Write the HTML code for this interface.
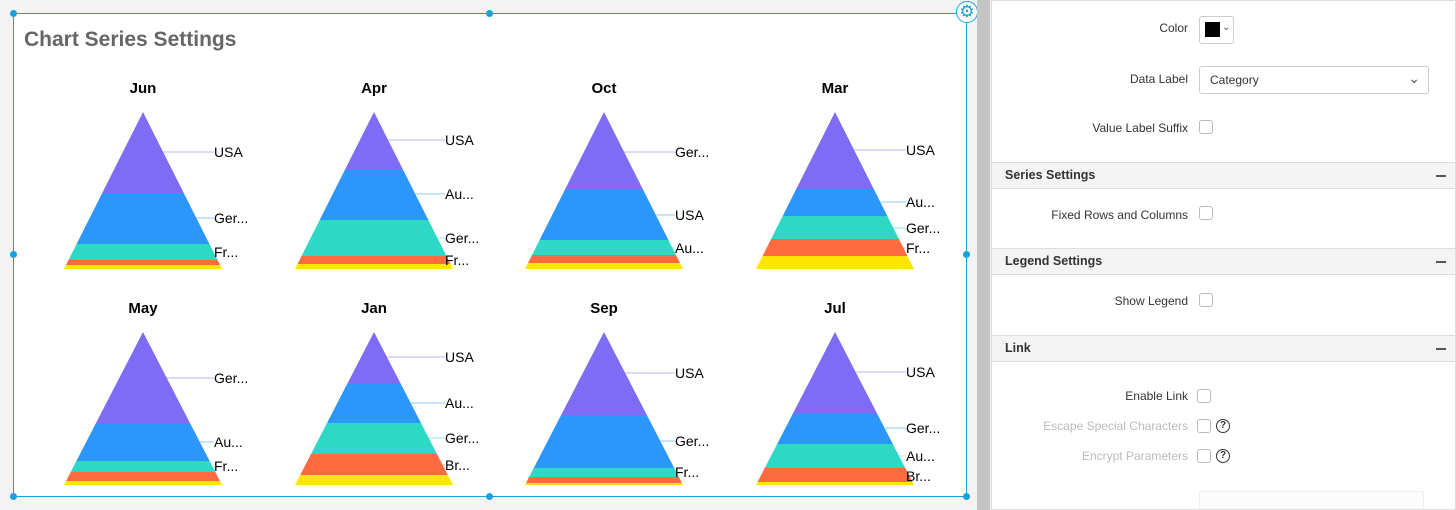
<!DOCTYPE html>
<html><head><style>
html,body{margin:0;width:1456px;height:510px;overflow:hidden}
body{background:#f3f3f3;font-family:"Liberation Sans",sans-serif;position:relative}
.card{position:absolute;left:13px;top:13px;width:952px;height:482px;background:#fff;border:1px solid #1aa0dd}
.h{position:absolute;width:7px;height:7px;border-radius:50%;background:#1aa0dd}
.sep{position:absolute;left:977px;top:0;width:13px;height:510px;background:#c4c4c4}
.panel{position:absolute;left:991px;top:0;width:463px;height:508px;background:#fff;border:1px solid #ddd;overflow:hidden}
.lbl{position:absolute;right:267px;font-size:12px;color:#333;text-align:right;white-space:nowrap}
.dis{color:#bbb}
.cb{position:absolute;width:12px;height:12px;border:1px solid #bbb;border-radius:3px;background:#fff}
.sec{position:absolute;left:0;width:463px;height:25px;background:#f4f4f4;border-top:1px solid #ddd;border-bottom:1px solid #ddd;font-size:12.5px;font-weight:bold;color:#333;line-height:25px;text-indent:13px}
.sec:after{content:"";position:absolute;right:9px;top:12px;width:10px;height:1.5px;background:#555}
.q{position:absolute;width:12px;height:12px;border:1.3px solid #333;border-radius:50%;font-size:10px;line-height:12px;text-align:center;color:#333;font-weight:bold}
</style></head><body>
<div class="card"></div>
<div class="h" style="left:10px;top:10px"></div><div class="h" style="left:486px;top:10px"></div>
<div class="h" style="left:10px;top:251px"></div><div class="h" style="left:963px;top:251px"></div>
<div class="h" style="left:10px;top:493px"></div><div class="h" style="left:486px;top:493px"></div><div class="h" style="left:963px;top:493px"></div>
<div style="position:absolute;left:956px;top:1px;width:20px;height:20px;border-radius:50%;background:#fff;border:1px solid #1aa0dd;color:#1aa0dd;font-size:17px;line-height:20px;text-align:center">⚙</div>
<svg id="s" width="977" height="510" style="position:absolute;left:0;top:0">
<text x="24" y="46" font-size="21" font-weight="bold" fill="#666" font-family="Liberation Sans">Chart Series Settings</text>
</svg>
<div class="sep"></div>
<div class="panel">
<div class="lbl" style="top:20px">Color</div>
<div style="position:absolute;left:207px;top:15px;width:33px;height:26px;border:1px solid #ccc;border-radius:3px"><div style="position:absolute;left:5px;top:5px;width:15px;height:15px;background:#000"></div><div style="position:absolute;left:22px;top:5px;font-size:10px;color:#555">⌄</div></div>
<div class="lbl" style="top:71px">Data Label</div>
<div style="position:absolute;left:207px;top:65px;width:228px;height:26px;border:1px solid #ccc;border-radius:3px;font-size:12px;color:#333;line-height:26px;text-indent:10px">Category<span style="position:absolute;right:8px;top:-2px;font-size:14px;color:#555">⌄</span></div>
<div class="lbl" style="top:120px">Value Label Suffix</div><div class="cb" style="left:207px;top:119px"></div>
<div class="sec" style="top:161px">Series Settings</div>
<div class="lbl" style="top:207px">Fixed Rows and Columns</div><div class="cb" style="left:207px;top:205px"></div>
<div class="sec" style="top:247px">Legend Settings</div>
<div class="lbl" style="top:293px">Show Legend</div><div class="cb" style="left:207px;top:292px"></div>
<div class="sec" style="top:334px">Link</div>
<div class="lbl" style="top:388px">Enable Link</div><div class="cb" style="left:205px;top:388px"></div>
<div class="lbl dis" style="top:418px">Escape Special Characters</div><div class="cb" style="left:205px;top:418px"></div><div class="q" style="left:224px;top:418px">?</div>
<div class="lbl dis" style="top:448px">Encrypt Parameters</div><div class="cb" style="left:205px;top:448px"></div><div class="q" style="left:224px;top:448px">?</div>
<div style="position:absolute;left:207px;top:490px;width:223px;height:30px;border:1px solid #eee;border-radius:3px;background:#fcfcfc"></div>
</div>
<script>
var C=["#7f6cf5","#2b96fb","#2dd8c5","#fe6b41","#fee600"];
var charts=[
["Jun",143,112,269,[193,244,260,265],[["USA",152],["Ger...",218],["Fr...",252]]],
["Apr",374,112,269,[170,220,256,264],[["USA",140],["Au...",194],["Ger...",238],["Fr...",260]]],
["Oct",604,112,269,[190,240,255,263],[["Ger...",152],["USA",215],["Au...",248]]],
["Mar",835,112,269,[189,216,239,256],[["USA",150],["Au...",202],["Ger...",228],["Fr...",248]]],
["May",143,332,485,[424,461,472,481],[["Ger...",378],["Au...",442],["Fr...",466]]],
["Jan",374,332,485,[384,423,454,475],[["USA",357],["Au...",403],["Ger...",438],["Br...",465]]],
["Sep",604,332,485,[415,468,477,483],[["USA",373],["Ger...",441],["Fr...",472]]],
["Jul",835,332,485,[414,444,468,482],[["USA",372],["Ger...",428],["Au...",456],["Br...",476]]]];
var h="";
charts.forEach(function(c){
var cx=c[1],t=c[2],b=c[3],hw=79;
function w(y){return hw*(y-t)/(b-t);}
var ys=[t].concat(c[4],[b]);
h+='<text x="'+cx+'" y="'+(t-19)+'" text-anchor="middle" font-size="15" font-weight="bold" font-family="Liberation Sans">'+c[0]+'</text>';
for(var i=0;i<5;i++){var a=ys[i],d=ys[i+1];
h+='<polygon fill="'+C[i]+'" points="'+(cx-w(a))+','+a+' '+(cx+w(a))+','+a+' '+(cx+w(d))+','+d+' '+(cx-w(d))+','+d+'"/>';}
c[5].forEach(function(l,i){var y=l[1],m=(ys[i]+ys[i+1])/2;
h+='<line x1="'+(cx+w(m))+'" y1="'+y+'" x2="'+(cx+71)+'" y2="'+y+'" stroke="'+C[i]+'" stroke-opacity="0.5"/>';
h+='<text x="'+(cx+71)+'" y="'+(y+5)+'" font-size="14" font-family="Liberation Sans">'+l[0]+'</text>';});
});
document.getElementById("s").insertAdjacentHTML("beforeend",h);
</script>
</body></html>
